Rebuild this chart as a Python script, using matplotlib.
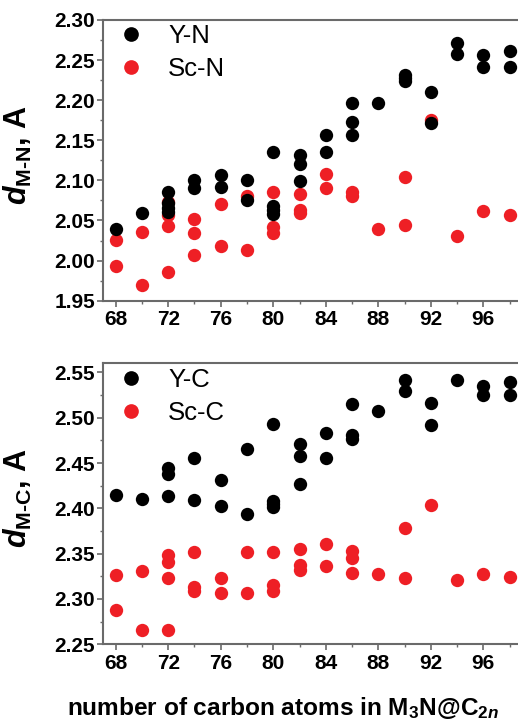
import numpy as np
import matplotlib
matplotlib.use("Agg")
import matplotlib.pyplot as plt
from matplotlib.ticker import MultipleLocator

plt.rcParams['font.family'] = ['Liberation Sans', 'DejaVu Sans']
plt.rcParams['mathtext.fontset'] = 'custom'
plt.rcParams['mathtext.rm'] = 'Liberation Sans:bold'
plt.rcParams['mathtext.bf'] = 'Liberation Sans:bold'
plt.rcParams['mathtext.it'] = 'Liberation Sans:bold:italic'

# M-N distances
yn_x = [68, 70, 72, 72, 72, 72, 74, 74, 76, 76, 78, 78,
        80, 80, 80, 80, 82, 82, 82, 84, 84, 86, 86, 86, 88,
        90, 90, 90, 92, 92, 94, 94, 96, 96, 98, 98]
yn_d = [2.039, 2.059, 2.086, 2.072, 2.066, 2.060, 2.101, 2.091, 2.107, 2.092, 2.101, 2.076,
        2.135, 2.068, 2.063, 2.058, 2.132, 2.120, 2.099, 2.157, 2.136, 2.196, 2.173, 2.157, 2.196,
        2.232, 2.228, 2.224, 2.210, 2.171, 2.271, 2.258, 2.256, 2.241, 2.261, 2.241]
scn_x = [68, 68, 70, 70, 72, 72, 72, 72, 74, 74, 74, 76, 76, 78, 78,
         80, 80, 80, 82, 82, 82, 84, 84, 86, 86, 88, 90, 90, 92, 94, 96, 98]
scn_d = [2.026, 1.993, 2.036, 1.970, 2.073, 2.057, 2.043, 1.986, 2.052, 2.035, 2.007, 2.071, 2.018, 2.080, 2.013,
         2.086, 2.042, 2.035, 2.083, 2.063, 2.059, 2.108, 2.090, 2.085, 2.080, 2.040, 2.104, 2.044, 2.175, 2.031, 2.062, 2.057]

# M-C distances
yc_x = [68, 70, 72, 72, 72, 74, 74, 76, 76, 78, 78,
        80, 80, 80, 80, 82, 82, 82, 84, 84, 86, 86, 86, 88,
        90, 90, 92, 92, 94, 96, 96, 98, 98]
yc_d = [2.415, 2.410, 2.445, 2.438, 2.414, 2.456, 2.409, 2.431, 2.403, 2.466, 2.394,
        2.493, 2.408, 2.405, 2.401, 2.471, 2.458, 2.427, 2.483, 2.455, 2.515, 2.481, 2.476, 2.507,
        2.542, 2.530, 2.516, 2.492, 2.542, 2.535, 2.525, 2.539, 2.525]
scc_x = [68, 68, 70, 70, 72, 72, 72, 72, 74, 74, 74, 76, 76, 78, 78,
         80, 80, 80, 82, 82, 82, 84, 84, 86, 86, 86, 88, 90, 90, 92, 94, 96, 98]
scc_d = [2.326, 2.288, 2.331, 2.266, 2.348, 2.341, 2.323, 2.266, 2.352, 2.313, 2.309, 2.323, 2.307, 2.352, 2.307,
         2.352, 2.315, 2.309, 2.355, 2.338, 2.332, 2.361, 2.336, 2.353, 2.345, 2.329, 2.328, 2.378, 2.323, 2.404, 2.321, 2.328, 2.324]

xticks = [68, 72, 76, 80, 84, 88, 92, 96]

red = '#ee1f25'
spine_col = '#6a6a6a'

fig = plt.figure(figsize=(5.18, 7.19), dpi=100)
ax1 = fig.add_axes([0.198, 0.5818, 0.8365, 0.3904])
ax2 = fig.add_axes([0.198, 0.1039, 0.8365, 0.3908])


def style(ax, ylim, ymaj, ymin, ylab):
    ax.set_xlim(67, 100)
    ax.set_ylim(*ylim)
    ax.set_xticks(xticks)
    ax.xaxis.set_minor_locator(MultipleLocator(2))
    ax.yaxis.set_major_locator(MultipleLocator(ymaj))
    ax.yaxis.set_minor_locator(MultipleLocator(ymin))
    ax.yaxis.set_major_formatter(matplotlib.ticker.FormatStrFormatter('%.2f'))
    for s in ax.spines.values():
        s.set_color(spine_col)
        s.set_linewidth(1.5)
    ax.tick_params(which='major', direction='out', length=4, width=1.2,
                   color=spine_col, labelsize=15, top=False, right=False)
    ax.tick_params(which='minor', direction='out', length=2.5, width=1.0,
                   color=spine_col, top=False, right=False)
    ax.tick_params(axis='x', pad=3)
    ax.tick_params(axis='y', pad=1.5)
    for lab in ax.get_xticklabels() + ax.get_yticklabels():
        lab.set_fontweight('bold')
    ax.set_ylabel(ylab, fontsize=22, fontweight='bold')
    ax.yaxis.set_label_coords(-0.158, 0.52)


ms = 9.6
r1, = ax1.plot(scn_x, scn_d, 'o', color=red, ms=ms, mec='none', label='Sc-N')
b1, = ax1.plot(yn_x, yn_d, 'o', color='black', ms=ms, mec='none', label='Y-N')
style(ax1, (1.95, 2.30), 0.05, 0.025, r'$d_{\mathrm{M}\text{-}\mathrm{N}}$, A')

r2, = ax2.plot(scc_x, scc_d, 'o', color=red, ms=ms, mec='none', label='Sc-C')
b2, = ax2.plot(yc_x, yc_d, 'o', color='black', ms=ms, mec='none', label='Y-C')
style(ax2, (2.25, 2.56), 0.05, 0.025, r'$d_{\mathrm{M}\text{-}\mathrm{C}}$, A')

for ax, hs in ((ax1, [b1, r1]), (ax2, [b2, r2])):
    ax.legend(handles=hs, loc='upper left', frameon=False, fontsize=18.5,
              bbox_to_anchor=(0.035, 0.985), handletextpad=0.96, labelspacing=0.36,
              handlelength=1.0, borderaxespad=0, borderpad=0, markerscale=1.1)

fig.text(67 / 518, 1 - 715 / 719, r'number of carbon atoms in M$_3$N@C$_{2n}$',
         fontsize=17.6, fontweight='bold', va='baseline', ha='left')

fig.savefig('out.png', dpi=100)
